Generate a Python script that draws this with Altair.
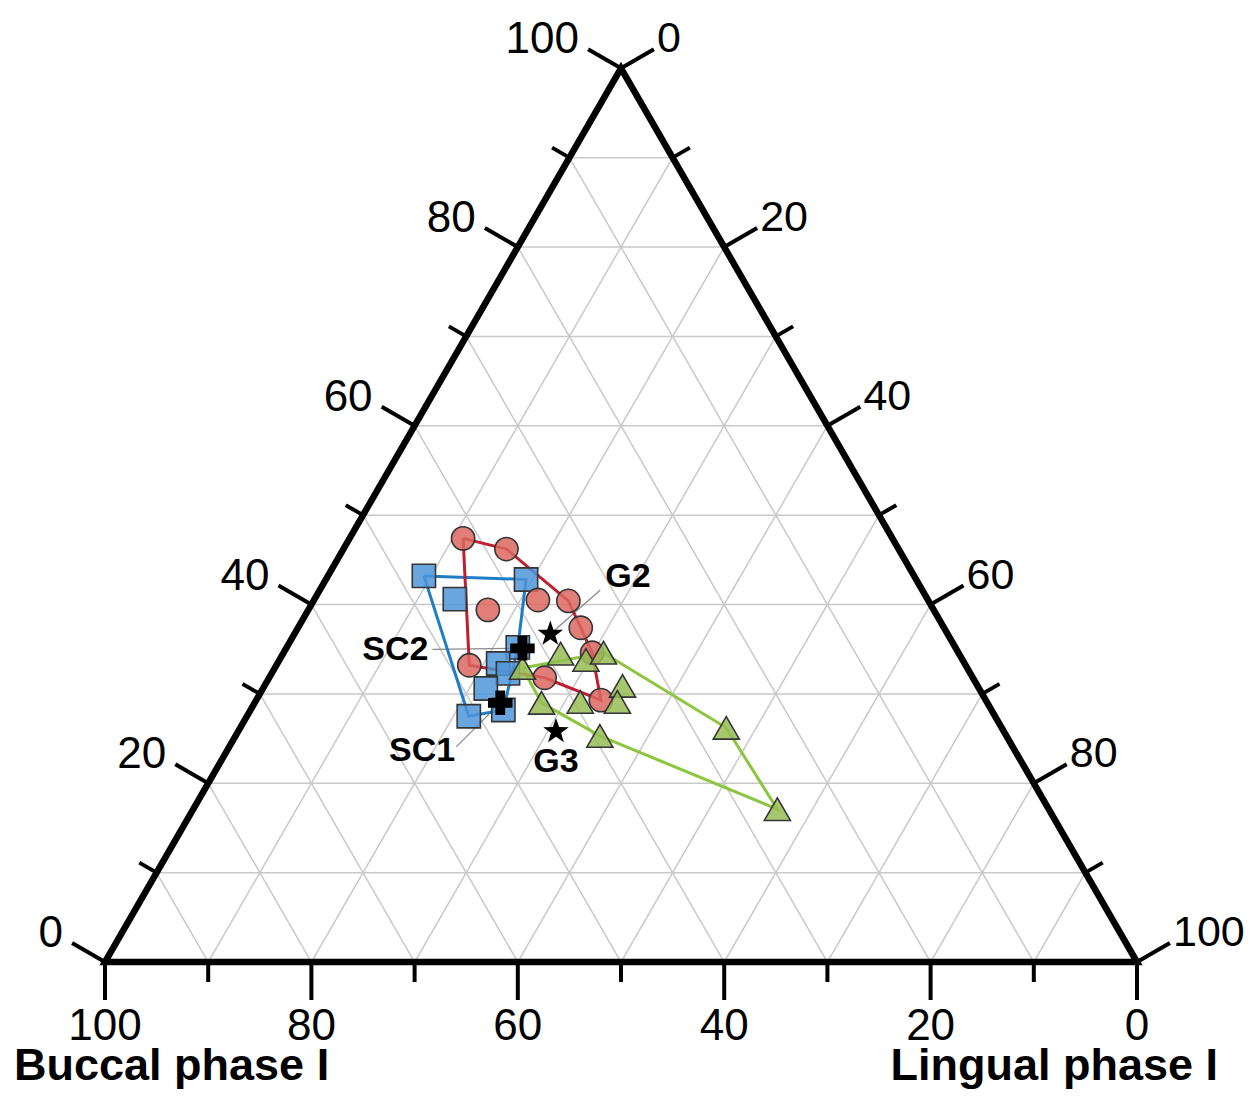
import math
import altair as alt
import pandas as pd

# ---------------- data (percent: Buccal phase I, Lingual phase I, apex component) ----------------
circ_buccal = [41.6, 38.0, 37.8, 34.9, 43.2, 35.2, 35.5, 48.1, 41.5, 37.3]
circ_lingual = [11.0, 15.8, 21.7, 24.7, 17.4, 27.4, 29.9, 18.7, 26.7, 33.4]
circ_apex = [47.4, 46.2, 40.5, 40.4, 39.4, 37.4, 34.6, 33.2, 31.8, 29.3]
circ_hull = [0, 1, 3, 5, 6, 9, 8, 7]

sq_buccal = [47.5, 37.8, 45.8, 42.4, 45.2, 44.8, 47.8, 51.0, 47.3]
sq_lingual = [9.3, 19.4, 13.6, 22.4, 21.4, 22.9, 21.6, 21.5, 24.5]
sq_apex = [43.2, 42.8, 40.6, 35.2, 33.4, 32.3, 30.6, 27.5, 28.2]
sq_hull = [0, 1, 3, 8, 7]

tri_buccal = [43.1, 38.6, 36.5, 34.4, 34.4, 43.2, 39.4, 35.8, 39.4, 26.7, 26.3]
tri_lingual = [24.0, 26.9, 29.7, 31.0, 34.7, 27.8, 31.5, 35.1, 35.3, 47.1, 56.6]
tri_apex = [32.9, 34.5, 33.8, 34.6, 30.9, 29.0, 29.1, 29.1, 25.3, 26.2, 17.1]
tri_hull = [0, 3, 9, 10, 8, 5]

star_names = ["G2", "G3"]
star_buccal = [38.5, 43.4]
star_lingual = [24.8, 30.8]
star_apex = [36.7, 25.8]

cross_names = ["SC2", "SC1"]
cross_buccal = [42.0, 47.2]
cross_lingual = [22.9, 23.8]
cross_apex = [35.1, 29.0]

grid_values = [10, 20, 30, 40, 50, 60, 70, 80, 90]
tick_values = [0, 10, 20, 30, 40, 50, 60, 70, 80, 90, 100]

title_left = "Buccal phase I"
title_right = "Lingual phase I"

# ---------------- ternary projection ----------------
H = math.sqrt(3) / 2


def proj(lingual, apex):
    return (lingual + apex / 2.0) / 100.0, apex / 100.0 * H


def points(buccal, lingual, apex, names=None):
    rows = []
    for i, (a, b, c) in enumerate(zip(buccal, lingual, apex)):
        x, y = proj(b, c)
        rows.append(dict(idx=i, x=x, y=y, name=(names[i] if names else "")))
    return pd.DataFrame(rows)


def hull(df, order):
    seq = list(order) + [order[0]]
    rows = []
    for k, i in enumerate(seq):
        rows.append(dict(seq=k, x=df.x[i], y=df.y[i]))
    return pd.DataFrame(rows)


circ = points(circ_buccal, circ_lingual, circ_apex)
sq = points(sq_buccal, sq_lingual, sq_apex)
tri = points(tri_buccal, tri_lingual, tri_apex)
stars = points(star_buccal, star_lingual, star_apex, star_names)
crosses = points(cross_buccal, cross_lingual, cross_apex, cross_names)

# grid lines: constant apex, constant lingual, constant buccal
g = []
for v in grid_values:
    x1, y1 = proj(0, v); x2, y2 = proj(100 - v, v)
    g.append(dict(x=x1, y=y1, x2=x2, y2=y2))
    x1, y1 = proj(v, 0); x2, y2 = proj(v, 100 - v)
    g.append(dict(x=x1, y=y1, x2=x2, y2=y2))
    x1, y1 = proj(100 - v, 0); x2, y2 = proj(0, 100 - v)
    g.append(dict(x=x1, y=y1, x2=x2, y2=y2))
grid = pd.DataFrame(g)

# triangle outline (buccal, lingual, apex vertices)
verts = [proj(0, 0), proj(100, 0), proj(0, 100), proj(0, 0), proj(100, 0)]
outline = pd.DataFrame([dict(seq=i, x=p[0], y=p[1]) for i, p in enumerate(verts)])

# axis positions: left (apex value), right (lingual value), bottom (buccal value)
left_t = pd.DataFrame([dict(v=v, major=(v % 20 == 0), x=proj(0, v)[0], y=proj(0, v)[1], t=str(v)) for v in tick_values])
right_t = pd.DataFrame([dict(v=v, major=(v % 20 == 0), x=proj(v, 100 - v)[0], y=proj(v, 100 - v)[1], t=str(v)) for v in tick_values])
bottom_t = pd.DataFrame([dict(v=v, major=(v % 20 == 0), x=proj(100 - v, 0)[0], y=0.0, t=str(v)) for v in tick_values])

corner = pd.DataFrame([dict(x=proj(0, 0)[0], y=0.0, t=title_left), dict(x=proj(100, 0)[0], y=0.0, t=title_right)])

# ---------------- scales ----------------
W, HT = 1237, 1082
XS = alt.Scale(domain=[-97 / 1032, (W - 97) / 1032], zero=False, nice=False)
YS = alt.Scale(domain=[(954 - HT) / 1032, 954 / 1032], zero=False, nice=False)


def X(f="x"):
    return alt.X(f, type="quantitative", scale=XS, axis=None)


def Y(f="y"):
    return alt.Y(f, type="quantitative", scale=YS, axis=None)


FONT = "Liberation Sans"
layers = []

# grid
layers.append(alt.Chart(grid).mark_rule(color="#c9c9c9", strokeWidth=1.5).encode(
    x=X(), y=Y(), x2=alt.X2("x2"), y2=alt.Y2("y2")))

# leader lines for annotations
lead = [(stars[stars.name == "G2"], 50, -44),
        (crosses[crosses.name == "SC2"], -90, 1),
        (crosses[crosses.name == "SC1"], -44, 44)]
for d, ox, oy in lead:
    layers.append(alt.Chart(d).mark_rule(color="#8a8a8a", strokeWidth=1.2, x2Offset=ox, y2Offset=oy).encode(
        x=X(), y=Y(), x2=alt.X2("x"), y2=alt.Y2("y")))

# outline
layers.append(alt.Chart(outline).mark_line(color="black", strokeWidth=6.5, strokeJoin="miter").encode(
    x=X(), y=Y(), order="seq:Q"))

# ticks
MAJ, MIN = 38, 20
c, s = math.cos(math.radians(30)), math.sin(math.radians(30))
for df, dx, dy in [(left_t, -c, -s), (right_t, c, -s), (bottom_t, 0, 1)]:
    for is_major, L in [(True, MAJ), (False, MIN)]:
        d = df[df.major == is_major]
        layers.append(alt.Chart(d).mark_rule(color="black", strokeWidth=4, strokeCap="butt",
                                             x2Offset=dx * L, y2Offset=dy * L).encode(
            x=X(), y=Y(), x2=alt.X2("x"), y2=alt.Y2("y")))

# tick labels
layers.append(alt.Chart(left_t[left_t.major]).mark_text(
    font=FONT, fontSize=44, align="right", baseline="alphabetic", dx=-42, dy=-15, color="black").encode(
    x=X(), y=Y(), text="t:N"))
layers.append(alt.Chart(right_t[right_t.major]).mark_text(
    font=FONT, fontSize=43, align="left", baseline="alphabetic", dx=36, dy=-16, color="black").encode(
    x=X(), y=Y(), text="t:N"))
layers.append(alt.Chart(bottom_t[bottom_t.major]).mark_text(
    font=FONT, fontSize=44, align="center", baseline="alphabetic", dx=0, dy=78, color="black").encode(
    x=X(), y=Y(), text="t:N"))

# axis titles
layers.append(alt.Chart(corner[corner.t == title_left]).mark_text(
    font=FONT, fontSize=45, fontWeight="bold", align="left", baseline="alphabetic", dx=-91, dy=118,
    color="black").encode(x=X(), y=Y(), text="t:N"))
layers.append(alt.Chart(corner[corner.t == title_right]).mark_text(
    font=FONT, fontSize=45, fontWeight="bold", align="right", baseline="alphabetic", dx=81, dy=118,
    color="black").encode(x=X(), y=Y(), text="t:N"))

# hulls
for df, order, col in [(tri, tri_hull, "#8cc63f"), (sq, sq_hull, "#1f7cc6"), (circ, circ_hull, "#be1e2d")]:
    layers.append(alt.Chart(hull(df, order)).mark_line(color=col, strokeWidth=3).encode(
        x=X(), y=Y(), order="seq:Q"))

# markers
STROKE = "#353535"
layers.append(alt.Chart(sq).mark_point(shape="square", filled=True, size=540, fill="#4f95d8",
                                       fillOpacity=0.85, stroke=STROKE, strokeWidth=1.6, opacity=1).encode(
    x=X(), y=Y()))
layers.append(alt.Chart(circ).mark_point(shape="circle", filled=True, size=540, fill="#dc6760",
                                         fillOpacity=0.85, stroke=STROKE, strokeWidth=1.6, opacity=1).encode(
    x=X(), y=Y()))
layers.append(alt.Chart(tri).mark_point(shape="triangle-up", filled=True, size=680, fill="#96bd55",
                                        fillOpacity=0.85, stroke=STROKE, strokeWidth=1.6, opacity=1).encode(
    x=X(), y=Y()))

STAR = ("M0,-1L0.235,-0.324L0.951,-0.309L0.380,0.124L0.588,0.809L0,0.4"
        "L-0.588,0.809L-0.380,0.124L-0.951,-0.309L-0.235,-0.324Z")
layers.append(alt.Chart(stars).mark_point(shape=STAR, filled=True, size=720, color="black", opacity=1).encode(
    x=X(), y=Y()))
layers.append(alt.Chart(crosses).mark_point(shape="cross", filled=True, size=600, color="black", opacity=1).encode(
    x=X(), y=Y()))

# annotation labels
ann = [(stars, "G2", "left", 55, -57),
       (stars, "G3", "center", 0, 31),
       (crosses, "SC2", "right", -94, 2),
       (crosses, "SC1", "right", -45, 48)]
for d, nm, al, ox, oy in ann:
    layers.append(alt.Chart(d[d.name == nm]).mark_text(
        font=FONT, fontSize=34, fontWeight="bold", align=al, baseline="middle", dx=ox, dy=oy,
        color="black").encode(x=X(), y=Y(), text="name:N"))

chart = alt.layer(*layers).properties(
    width=W, height=HT, autosize=alt.AutoSizeParams(type="none"), padding=0
).configure_view(strokeWidth=0)

chart.save("out.html", embed_options={"renderer": "svg", "actions": False})
